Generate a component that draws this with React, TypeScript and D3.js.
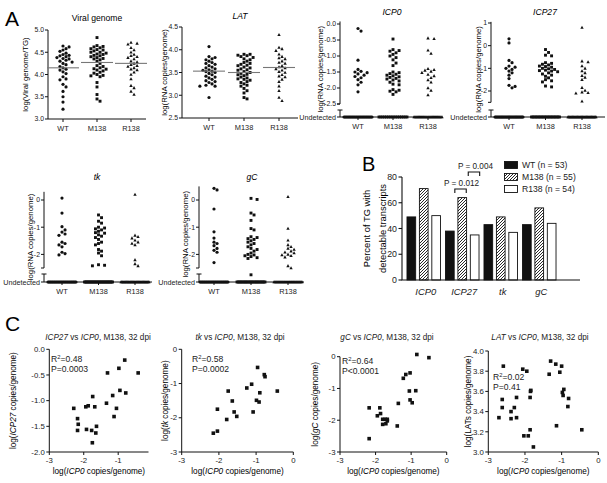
import React from "react";
import * as d3 from "d3";

const FONT = "'Liberation Sans', Arial, Helvetica, sans-serif";
const INK = "#111";

// ---------- shared ----------
const strains = ["WT", "M138", "R138"];

// ---------- Panel A data ----------
const viralWT = [4.64, 4.62, 4.58, 4.55, 4.52, 4.48, 4.45, 4.43, 4.42, 4.40, 4.38, 4.36, 4.35, 4.32, 4.30, 4.28, 4.25, 4.22, 4.18, 4.15, 4.12, 4.10, 4.06, 4.02, 3.95, 3.90, 3.88, 3.78, 3.72, 3.62, 3.50, 3.38, 3.22];
const viralM138 = [4.83, 4.65, 4.63, 4.62, 4.60, 4.58, 4.56, 4.55, 4.53, 4.50, 4.50, 4.48, 4.46, 4.45, 4.43, 4.42, 4.40, 4.38, 4.36, 4.35, 4.33, 4.30, 4.25, 4.20, 4.18, 4.15, 4.13, 4.12, 4.10, 4.08, 4.05, 4.03, 4.00, 3.98, 3.97, 3.95, 3.82, 3.72, 3.55, 3.45, 3.40];
const viralR138 = [4.72, 4.70, 4.68, 4.60, 4.55, 4.50, 4.45, 4.42, 4.40, 4.38, 4.35, 4.30, 4.28, 4.25, 4.22, 4.20, 4.18, 4.15, 4.12, 4.10, 4.05, 4.00, 3.90, 3.75, 3.70, 3.62, 3.55];
const viralMeans = [4.15, 4.27, 4.25];

const latWT = [4.07, 3.85, 3.83, 3.80, 3.78, 3.75, 3.72, 3.70, 3.68, 3.65, 3.62, 3.60, 3.58, 3.56, 3.55, 3.53, 3.52, 3.50, 3.48, 3.45, 3.42, 3.40, 3.38, 3.35, 3.32, 3.30, 3.28, 3.25, 3.22, 3.20, 3.20, 2.95];
const latM138 = [3.90, 3.90, 3.88, 3.87, 3.85, 3.83, 3.80, 3.78, 3.75, 3.72, 3.70, 3.68, 3.66, 3.65, 3.62, 3.60, 3.58, 3.56, 3.55, 3.52, 3.50, 3.48, 3.46, 3.45, 3.43, 3.40, 3.38, 3.36, 3.35, 3.33, 3.30, 3.28, 3.25, 3.22, 3.20, 3.15, 3.10, 3.05, 2.95, 2.92];
const latR138 = [4.33, 4.05, 4.02, 3.98, 3.90, 3.85, 3.82, 3.80, 3.75, 3.72, 3.70, 3.65, 3.62, 3.60, 3.58, 3.55, 3.52, 3.50, 3.45, 3.42, 3.40, 3.35, 3.30, 3.20, 3.10, 2.95, 2.88];
const latMeans = [3.53, 3.50, 3.61];

const icp0WT = [-0.14, -0.22, -1.13, -1.42, -1.48, -1.50, -1.52, -1.56, -1.60, -1.64, -1.68, -1.74, -1.82, -1.90, -2.12];
const icp0M138 = [-0.47, -0.80, -0.83, -0.85, -0.90, -0.95, -1.00, -1.05, -1.12, -1.22, -1.30, -1.50, -1.52, -1.55, -1.57, -1.60, -1.62, -1.65, -1.67, -1.70, -1.72, -1.75, -1.78, -1.82, -1.88, -1.90, -2.05, -2.07, -2.10, -2.12, -2.20];
const icp0R138 = [-0.44, -0.46, -0.82, -0.92, -1.40, -1.43, -1.45, -1.48, -1.52, -1.58, -1.62, -1.68, -1.75, -1.82, -2.00, -2.08, -2.22];
const icp0Undetected = [27, 16, 27];

const icp27WT = [0.30, 0.12, -0.65, -0.75, -0.90, -0.95, -1.00, -1.05, -1.12, -1.20, -1.30, -1.45, -1.75, -1.80, -1.86];
const icp27M138 = [-0.17, -0.30, -0.42, -0.45, -0.75, -0.78, -0.82, -0.85, -0.90, -0.92, -0.95, -1.00, -1.02, -1.05, -1.08, -1.10, -1.12, -1.15, -1.20, -1.25, -1.30, -1.35, -1.42, -1.50, -1.55, -1.60, -1.78, -1.82];
const icp27R138 = [0.80, -0.68, -0.72, -0.90, -1.00, -1.12, -1.20, -1.32, -1.40, -1.50, -1.85, -1.98, -2.05, -2.08, -2.10, -2.45];
const icp27Undetected = [33, 20, 35];

const tkWT = [0.07, -0.48, -0.98, -1.10, -1.18, -1.25, -1.30, -1.55, -1.60, -1.65, -1.72, -1.92, -1.97, -2.02];
const tkM138 = [-0.55, -0.65, -0.78, -0.85, -1.00, -1.03, -1.06, -1.10, -1.15, -1.20, -1.22, -1.28, -1.33, -1.38, -1.45, -1.55, -1.60, -1.65, -1.82, -1.88, -1.95, -2.05, -2.38, -2.40, -2.42];
const tkR138 = [0.20, -1.30, -1.35, -1.40, -1.48, -1.55, -1.60, -1.65, -2.20, -2.35, -2.42];
const tkUndetected = [30, 28, 34];

const gcWT = [0.43, 0.37, -0.33, -1.17, -1.40, -1.55, -1.60, -1.68, -1.78, -1.85, -1.92, -2.30];
const gcM138 = [0.06, 0.02, -0.48, -0.55, -0.75, -1.05, -1.10, -1.35, -1.38, -1.42, -1.45, -1.50, -1.55, -1.60, -1.65, -1.72, -1.78, -1.82, -1.88, -1.95, -2.00, -2.02, -2.05, -2.08, -2.12, -2.15, -2.75];
const gcR138 = [0.12, -1.05, -1.48, -1.65, -1.72, -1.78, -1.82, -1.88, -1.92, -1.95, -2.00, -2.02, -2.05, -2.10, -2.42, -2.50];
const gcUndetected = [30, 24, 30];

// ---------- Panel B data ----------
const genes = ["ICP0", "ICP27", "tk", "gC"];
const pctWT = [49, 38, 43, 43];
const pctM138 = [71, 64, 49, 56];
const pctR138 = [50, 35, 37, 44];
const legendLabels = ["WT (n = 53)", "M138 (n = 55)", "R138 (n = 54)"];
const pTicks = [0, 20, 40, 60, 80];

// ---------- Panel C data ----------
const c1ICP0 = [-2.29, -2.18, -2.16, -2.18, -1.94, -1.87, -1.74, -1.68, -1.92, -1.77, -1.65, -1.63, -1.75, -1.34, -1.31, -1.16, -1.12, -1.05, -0.98, -0.95, -0.81, -0.78, -0.42];
const c1ICP27 = [-1.15, -1.35, -1.46, -1.58, -1.12, -1.10, -0.92, -1.12, -1.56, -1.58, -1.63, -1.50, -1.82, -1.05, -0.46, -0.90, -1.31, -1.15, -0.37, -0.80, -0.21, -0.85, -0.46];
const c2ICP0 = [-2.15, -2.04, -2.04, -1.75, -1.79, -1.64, -1.59, -1.52, -1.25, -1.12, -1.08, -0.96, -0.99, -0.92, -0.90, -0.78, -0.76, -0.43];
const c2TK = [-2.45, -2.39, -1.75, -1.22, -2.05, -1.51, -1.83, -1.96, -1.13, -1.02, -1.83, -0.53, -1.49, -1.54, -1.27, -0.74, -0.80, -1.22];
const c3ICP0 = [-2.18, -2.18, -1.95, -1.88, -1.86, -1.80, -1.73, -1.67, -1.80, -1.71, -1.67, -1.36, -1.39, -1.22, -1.15, -1.05, -1.03, -1.03, -0.97, -0.87, -0.84, -0.50];
const c3GC = [-1.61, -2.58, -1.86, -1.61, -1.79, -1.97, -1.97, -1.97, -2.13, -2.11, -2.02, -1.47, -2.18, -0.68, -0.56, -1.08, -0.51, -1.36, -1.45, -1.07, 0.07, -0.03];
const c4ICP0 = [-2.71, -2.62, -2.62, -2.59, -2.38, -2.38, -2.29, -2.23, -2.23, -2.06, -2.03, -1.95, -1.91, -1.86, -1.86, -1.85, -1.84, -1.77, -1.34, -1.30, -1.16, -1.05, -1.00, -1.14, -0.98, -0.96, -0.94, -0.83, -0.81, -0.45];
const c4LAT = [3.34, 3.52, 3.44, 3.85, 3.40, 3.33, 3.44, 3.34, 3.54, 3.82, 3.16, 3.80, 3.16, 3.22, 3.54, 3.60, 3.61, 3.05, 3.77, 3.90, 3.87, 3.79, 3.85, 3.26, 3.59, 3.56, 3.62, 3.45, 3.53, 3.22];
const cR2 = ["0.48", "0.58", "0.64", "0.02"];
const cP = ["P=0.0003", "P=0.0002", "P<0.0001", "P=0.41"];

// ---------- helpers ----------
function swarm(values: number[], y: (v: number) => number, cx: number, d: number) {
  const sorted = [...values].sort((a, b) => b - a);
  const placed: { x: number; y: number }[] = [];
  for (const v of sorted) {
    const py = y(v);
    let px = cx;
    for (let k = 0; k < 60; k++) {
      const off = k === 0 ? 0 : (k % 2 === 1 ? 1 : -1) * Math.ceil(k / 2) * d * 0.92;
      px = cx + off;
      if (!placed.some((p) => (p.x - px) ** 2 + (p.y - py) ** 2 < d * d)) break;
    }
    placed.push({ x: px, y: py });
  }
  return placed;
}

function Marker({ kind, x, y, s }: { kind: number; x: number; y: number; s: number }) {
  if (kind === 0) return <circle cx={x} cy={y} r={s * 0.55} fill={INK} />;
  if (kind === 1) return <rect x={x - s / 2} y={y - s / 2} width={s} height={s} fill={INK} />;
  return (
    <path
      d={`M${x},${y - s * 0.62}L${x + s * 0.58},${y + s * 0.45}L${x - s * 0.58},${y + s * 0.45}Z`}
      fill={INK}
    />
  );
}

const f1 = (v: number) => v.toFixed(1);
const f0 = (v: number) => v.toFixed(0);

const TICK_FS = 6.9;

interface DotSpec {
  axisX: number;
  xEnd: number;
  cats: [number, number];
  domain: [number, number];
  range: [number, number];
  ticks: number[];
  fmt: (v: number) => string;
  axisTopVal: number;
  axisBotVal: number;
  baseY: number;
  undet?: { capY: number; counts: number[] };
  title: string;
  italic: boolean;
  titleX: number;
  titleY: number;
  ylabel: string;
  ylabelX: number;
  series: number[][];
  means?: number[];
}

function DotPlot({ s }: { s: DotSpec }) {
  const y = d3.scaleLinear().domain(s.domain).range(s.range);
  const x = d3.scalePoint<string>().domain(strains).range(s.cats);
  const top = y(s.axisTopVal);
  const bot = y(s.axisBotVal);
  const yMid = (top + s.baseY) / 2;
  return (
    <g>
      <text x={s.titleX} y={s.titleY} textAnchor="middle" fontSize={8.6} fontStyle={s.italic ? "italic" : "normal"}>
        {s.title}
      </text>
      <text
        transform={`translate(${s.ylabelX},${yMid}) rotate(-90)`}
        textAnchor="middle"
        dy="0.35em"
        fontSize={7.8}
      >
        {s.ylabel}
      </text>
      {/* y axis */}
      <path d={`M${s.axisX},${top}V${s.undet ? bot : s.baseY}`} stroke={INK} strokeWidth={1} fill="none" />
      {s.ticks.map((t) => (
        <g key={t}>
          <line x1={s.axisX - 3} x2={s.axisX} y1={y(t)} y2={y(t)} stroke={INK} strokeWidth={1} />
          <text x={s.axisX - 4} y={y(t)} dy="0.35em" textAnchor="end" fontSize={TICK_FS} fill="#222">
            {s.fmt(t)}
          </text>
        </g>
      ))}
      {s.undet && (
        <g>
          <line x1={s.axisX - 3} x2={s.axisX} y1={bot} y2={bot} stroke={INK} strokeWidth={1} />
          <path
            d={`M${s.axisX - 2.5},${s.undet.capY}H${s.axisX + 2.5}M${s.axisX},${s.undet.capY}V${s.baseY}`}
            stroke={INK}
            strokeWidth={1}
            fill="none"
          />
          <line x1={s.axisX - 3} x2={s.axisX} y1={s.baseY} y2={s.baseY} stroke={INK} strokeWidth={1} />
          <text x={s.axisX - 4} y={s.baseY} dy="0.35em" textAnchor="end" fontSize={7.2} fill="#222">
            Undetected
          </text>
        </g>
      )}
      {/* x axis */}
      <path d={`M${s.axisX},${s.baseY}H${s.xEnd}`} stroke={INK} strokeWidth={1} fill="none" />
      {strains.map((c) => (
        <g key={c}>
          <line x1={x(c)!} x2={x(c)!} y1={s.baseY} y2={s.baseY + 3} stroke={INK} strokeWidth={1} />
          <text x={x(c)!} y={s.baseY + 11.5} textAnchor="middle" fontSize={7.4} fill="#222">
            {c}
          </text>
        </g>
      ))}
      {/* points */}
      {s.series.map((vals, i) =>
        swarm(vals, y, x(strains[i])!, 3.3).map((p, j) => <Marker key={`${i}-${j}`} kind={i} x={p.x} y={p.y} s={2.9} />)
      )}
      {s.undet &&
        s.undet.counts.map((n, i) => {
          const cx = x(strains[i])!;
          const xs = d3.range(n).map((k) => cx - 14 + (28 * k) / Math.max(1, n - 1));
          return xs.map((px, j) => <Marker key={`u${i}-${j}`} kind={i} x={px} y={s.baseY} s={2.9} />);
        })}
      {s.means &&
        s.means.map((m, i) => (
          <line
            key={`m${i}`}
            x1={x(strains[i])! - 16}
            x2={x(strains[i])! + 16}
            y1={y(m)}
            y2={y(m)}
            stroke="#777"
            strokeWidth={1.1}
          />
        ))}
    </g>
  );
}

const RNA = "log(RNA copies/genome)";

const dotSpecs: DotSpec[] = [
  {
    axisX: 48, xEnd: 146, cats: [63, 131], domain: [3, 5], range: [119, 30],
    ticks: [3, 3.5, 4, 4.5, 5], fmt: f1, axisTopVal: 5, axisBotVal: 3, baseY: 119,
    title: "Viral genome", italic: false, titleX: 97, titleY: 21, ylabel: "log(Viral genome/TG)", ylabelX: 25,
    series: [viralWT, viralM138, viralR138], means: viralMeans,
  },
  {
    axisX: 182, xEnd: 298, cats: [209, 279], domain: [2.5, 4.5], range: [118, 27],
    ticks: [2.5, 3, 3.5, 4, 4.5], fmt: f1, axisTopVal: 4.5, axisBotVal: 2.5, baseY: 118,
    title: "LAT", italic: true, titleX: 240, titleY: 19, ylabel: RNA, ylabelX: 164,
    series: [latWT, latM138, latR138], means: latMeans,
  },
  {
    axisX: 340, xEnd: 440, cats: [358, 428], domain: [-2.5, 0], range: [104, 24],
    ticks: [0, -0.5, -1, -1.5, -2, -2.5], fmt: f1, axisTopVal: 0.08, axisBotVal: -2.5, baseY: 117,
    undet: { capY: 110, counts: icp0Undetected },
    title: "ICP0", italic: true, titleX: 392, titleY: 15, ylabel: RNA, ylabelX: 320,
    series: [icp0WT, icp0M138, icp0R138],
  },
  {
    axisX: 491, xEnd: 605, cats: [509, 582], domain: [-2, 1], range: [91, 23],
    ticks: [1, 0, -1, -2], fmt: f0, axisTopVal: 1.05, axisBotVal: -2.5, baseY: 117,
    undet: { capY: 110, counts: icp27Undetected },
    title: "ICP27", italic: true, titleX: 545, titleY: 15, ylabel: RNA, ylabelX: 478,
    series: [icp27WT, icp27M138, icp27R138],
  },
  {
    axisX: 44, xEnd: 152, cats: [62, 135], domain: [-2, 0], range: [254.4, 200],
    ticks: [0, -1, -2], fmt: f0, axisTopVal: 0.3, axisBotVal: -2.5, baseY: 282,
    undet: { capY: 274, counts: tkUndetected },
    title: "tk", italic: true, titleX: 97, titleY: 180, ylabel: RNA, ylabelX: 30,
    series: [tkWT, tkM138, tkR138],
  },
  {
    axisX: 199, xEnd: 304, cats: [214, 288], domain: [-2, 0], range: [254.4, 200],
    ticks: [0, -1, -2], fmt: f0, axisTopVal: 0.5, axisBotVal: -2.5, baseY: 282,
    undet: { capY: 274, counts: gcUndetected },
    title: "gC", italic: true, titleX: 252, titleY: 180, ylabel: RNA, ylabelX: 185,
    series: [gcWT, gcM138, gcR138],
  },
];

// ---------- Panel B ----------
function BarPanel() {
  const y = d3.scaleLinear().domain([0, 80]).range([280, 177]);
  const x0 = d3.scaleBand<string>().domain(genes).range([404.5, 558.5]);
  const x1 = d3.scaleBand<string>().domain(strains).range([0, x0.bandwidth()]).paddingInner(0.3).paddingOuter(0.2);
  const series = [pctWT, pctM138, pctR138];
  const fills = [INK, "url(#hatch)", "#fff"];
  const cx = (g: string, s: string) => x0(g)! + x1(s)! + x1.bandwidth() / 2;
  const b1 = [cx("ICP27", "WT") + 5, cx("ICP27", "M138") + 4];
  const b2 = [cx("ICP27", "M138") + 6, cx("ICP27", "R138") + 5];
  return (
    <g>
      <text x={362} y={171} fontSize={20}>B</text>
      <text transform={`translate(367,228.5) rotate(-90)`} textAnchor="middle" dy="0.35em" fontSize={9.4}>
        Percent of TG with
      </text>
      <text transform={`translate(383,228.5) rotate(-90)`} textAnchor="middle" dy="0.35em" fontSize={9.4}>
        detectable transcripts
      </text>
      {series.map((vals, si) =>
        genes.map((g, gi) => (
          <rect
            key={`${si}-${g}`}
            x={x0(g)! + x1(strains[si])!}
            y={y(vals[gi])}
            width={x1.bandwidth()}
            height={y(0) - y(vals[gi])}
            fill={fills[si]}
            stroke={INK}
            strokeWidth={0.9}
          />
        ))
      )}
      <path d={`M402,${y(80)}V${y(0)}H580`} stroke={INK} strokeWidth={1.1} fill="none" />
      {pTicks.map((t) => (
        <g key={t}>
          <line x1={398.5} x2={402} y1={y(t)} y2={y(t)} stroke={INK} strokeWidth={1.1} />
          <text x={397} y={y(t)} dy="0.35em" textAnchor="end" fontSize={8.8} fill="#222">
            {t}
          </text>
        </g>
      ))}
      {genes.map((g) => (
        <text key={g} x={x0(g)! + x0.bandwidth() / 2 + 2} y={295} textAnchor="middle" fontSize={9.4} fontStyle="italic" fill="#222">
          {g}
        </text>
      ))}
      <path d={`M${b1[0]},193V189H${b1[1]}V193`} stroke={INK} strokeWidth={1.1} fill="none" />
      <text x={(b1[0] + b1[1]) / 2 + 1} y={186} textAnchor="middle" fontSize={8.2} fill="#222">P = 0.012</text>
      <path d={`M${b2[0]},176V172H${b2[1]}V176`} stroke={INK} strokeWidth={1.1} fill="none" />
      <text x={(b2[0] + b2[1]) / 2 + 1.5} y={169} textAnchor="middle" fontSize={8.2} fill="#222">P = 0.004</text>
      {legendLabels.map((l, i) => (
        <g key={l}>
          <rect x={504.5} y={161.5 + i * 12} width={13} height={7} fill={fills[i]} stroke={INK} strokeWidth={0.9} />
          <text x={522} y={165 + i * 12} dy="0.35em" fontSize={8.6} fill="#222">
            {l}
          </text>
        </g>
      ))}
    </g>
  );
}

// ---------- Panel C ----------
interface ScatterSpec {
  xs: number[];
  ys: number[];
  xd: [number, number];
  xr: [number, number];
  yd: [number, number];
  yr: [number, number];
  xticks: number[];
  yticks: number[];
  yfmt: (v: number) => string;
  title: React.ReactNode;
  titleX: number;
  ylabel: React.ReactNode;
  ylabelX: number;
  r2: string;
  p: string;
  statX: number;
  statY: number;
}

function Scatter({ s }: { s: ScatterSpec }) {
  const x = d3.scaleLinear().domain(s.xd).range(s.xr);
  const y = d3.scaleLinear().domain(s.yd).range(s.yr);
  const x0 = s.xr[0];
  const y0 = s.yr[0];
  return (
    <g>
      <text x={s.titleX} y={340} textAnchor="middle" fontSize={8.2} fill="#222">
        {s.title}
      </text>
      <text transform={`translate(${s.ylabelX},${(s.yr[0] + s.yr[1]) / 2}) rotate(-90)`} textAnchor="middle" dy="0.35em" fontSize={8.2}>
        {s.ylabel}
      </text>
      <text x={(s.xr[0] + s.xr[1]) / 2} y={474} textAnchor="middle" fontSize={8.2}>
        log(<tspan fontStyle="italic">ICP0</tspan> copies/genome)
      </text>
      <path d={`M${x0},${s.yr[1]}V${y0}H${s.xr[1]}`} stroke={INK} strokeWidth={1} fill="none" />
      {s.yticks.map((t) => (
        <g key={t}>
          <line x1={x0 - 3} x2={x0} y1={y(t)} y2={y(t)} stroke={INK} strokeWidth={1} />
          <text x={x0 - 4.5} y={y(t)} dy="0.35em" textAnchor="end" fontSize={7.8} fill="#222">
            {s.yfmt(t)}
          </text>
        </g>
      ))}
      {s.xticks.map((t) => (
        <g key={t}>
          <line x1={x(t)} x2={x(t)} y1={y0} y2={y0 + 3} stroke={INK} strokeWidth={1} />
          <text x={x(t)} y={y0 + 11} textAnchor="middle" fontSize={7.8} fill="#222">
            {f0(t)}
          </text>
        </g>
      ))}
      {s.xs.map((v, i) => (
        <rect key={i} x={x(v) - 1.8} y={y(s.ys[i]) - 1.8} width={3.6} height={3.6} fill={INK} />
      ))}
      <text x={s.statX} y={s.statY} fontSize={8.6} fill="#222">
        R<tspan dy={-3.2} fontSize={5.8}>2</tspan>
        <tspan dy={3.2}>={s.r2}</tspan>
      </text>
      <text x={s.statX} y={s.statY + 10} fontSize={8.6} fill="#222">
        {s.p}
      </text>
    </g>
  );
}

const I = ({ children }: { children: React.ReactNode }) => <tspan fontStyle="italic">{children}</tspan>;

const scatterSpecs: ScatterSpec[] = [
  {
    xs: c1ICP0, ys: c1ICP27, xd: [-3, -0.12], xr: [49.3, 148.5], yd: [-2, 0], yr: [452, 349.3],
    xticks: [-3, -2, -1], yticks: [0, -0.5, -1, -1.5, -2], yfmt: f1,
    title: (<><I>ICP27</I> vs <I>ICP0</I>, M138, 32 dpi</>), titleX: 98,
    ylabel: (<>log(<I>ICP27</I> copies/genome)</>), ylabelX: 13,
    r2: cR2[0], p: cP[0], statX: 51, statY: 362,
  },
  {
    xs: c2ICP0, ys: c2TK, xd: [-3, 0], xr: [181.7, 293.3], yd: [-3, 0], yr: [452, 349.3],
    xticks: [-3, -2, -1, 0], yticks: [0, -1, -2, -3], yfmt: f0,
    title: (<><I>tk</I> vs <I>ICP0</I>, M138, 32 dpi</>), titleX: 240,
    ylabel: (<>log(<I>tk</I> copies/genome)</>), ylabelX: 165,
    r2: cR2[1], p: cP[1], statX: 192, statY: 362,
  },
  {
    xs: c3ICP0, ys: c3GC, xd: [-3, 0], xr: [340, 446.7], yd: [-3, 0], yr: [452, 356.7],
    xticks: [-3, -2, -1, 0], yticks: [0, -1, -2, -3], yfmt: f0,
    title: (<><I>gC</I> vs <I>ICP0</I>, M138, 32 dpi</>), titleX: 387,
    ylabel: (<>log(<I>gC</I> copies/genome)</>), ylabelX: 315,
    r2: cR2[2], p: cP[2], statX: 342, statY: 364,
  },
  {
    xs: c4ICP0, ys: c4LAT, xd: [-3, 0], xr: [488.3, 598.3], yd: [3, 4], yr: [452, 351],
    xticks: [-3, -2, -1, 0], yticks: [3, 3.2, 3.4, 3.6, 3.8, 4], yfmt: f1,
    title: (<><I>LAT</I> vs <I>ICP0</I>, M138, 32 dpi</>), titleX: 540,
    ylabel: "log(LATs copies/genome)", ylabelX: 468,
    r2: cR2[3], p: cP[3], statX: 493, statY: 380,
  },
];

export default function App() {
  return (
    <svg
      width={607}
      height={483}
      viewBox="0 0 607 483"
      style={{ position: "absolute", left: 0, top: 0, background: "#fff" }}
      fontFamily={FONT}
    >
      <defs>
        <pattern id="hatch" width={3} height={3} patternUnits="userSpaceOnUse">
          <rect width={3} height={3} fill="#fff" />
          <path d="M-1,1L1,-1M0,3L3,0M2,4L4,2" stroke={INK} strokeWidth={0.9} />
        </pattern>
      </defs>
      <rect width={607} height={483} fill="#fff" />
      <text x={5} y={26} fontSize={21}>A</text>
      <text x={5} y={331} fontSize={21}>C</text>
      {dotSpecs.map((s, i) => (
        <DotPlot key={i} s={s} />
      ))}
      <BarPanel />
      {scatterSpecs.map((s, i) => (
        <Scatter key={i} s={s} />
      ))}
    </svg>
  );
}
